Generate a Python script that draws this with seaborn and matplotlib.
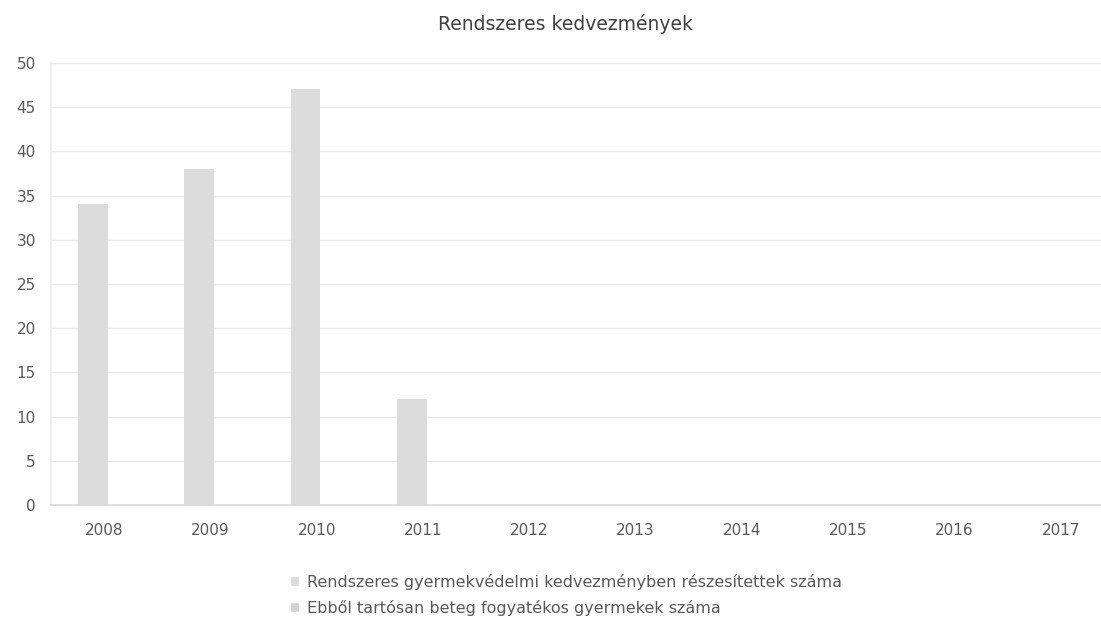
import numpy as np
import pandas as pd
import matplotlib
matplotlib.use("Agg")
import matplotlib.pyplot as plt
import seaborn as sns

# adatok
evek = ["2008", "2009", "2010", "2011", "2012", "2013", "2014", "2015", "2016", "2017"]
rendszeres = [34, 38, 47, 12, 0, 0, 0, 0, 0, 0]
tartosan_beteg = [0, 0, 0, 0, 0, 0, 0, 0, 0, 0]

sorozat_nevek = [
    "Rendszeres gyermekvédelmi kedvezményben részesítettek száma",
    "Ebből tartósan beteg fogyatékos gyermekek száma",
]
cim = "Rendszeres kedvezmények"
y_tickek = [0, 5, 10, 15, 20, 25, 30, 35, 40, 45, 50]

szinek = ["#dcdcdc", "#d2d2d2"]
szoveg_szin = "#595959"

df = pd.DataFrame({
    "ev": evek * 2,
    "ertek": rendszeres + tartosan_beteg,
    "sorozat": [sorozat_nevek[0]] * len(evek) + [sorozat_nevek[1]] * len(evek),
})

sns.set_theme(style="white")
plt.rcParams["font.family"] = ["DejaVu Sans"]

fig = plt.figure(figsize=(11.01, 6.29), dpi=100)
ax = fig.add_axes([0.0463, 0.197, 0.9655, 0.703])

sns.barplot(data=df, x="ev", y="ertek", hue="sorozat", palette=szinek,
            width=0.42, ax=ax, saturation=1, errorbar=None)

# excel-szeru oszlopszelesseg, kozeppont marad
for p in ax.patches:
    kozep = p.get_x() + p.get_width() / 2
    p.set_width(0.28)
    p.set_x(kozep - 0.14)
    p.set_linewidth(0)

ax.set_ylim(0, 50)
ax.set_xlim(-0.5, len(evek) - 0.5)
ax.set_yticks(y_tickek)
ax.set_yticklabels([str(t) for t in y_tickek])
ax.yaxis.grid(True, color="#ebebeb", linewidth=1)
ax.set_axisbelow(True)
ax.set_xlabel("")
ax.set_ylabel("")
ax.tick_params(axis="y", length=0, pad=11, labelsize=11, labelcolor=szoveg_szin)
ax.tick_params(axis="x", length=0, pad=13, labelsize=11, labelcolor=szoveg_szin)

for s in ["top", "right"]:
    ax.spines[s].set_visible(False)
ax.spines["bottom"].set_color("#d9d9d9")
ax.spines["left"].set_color("#eeeeee")

fig.text(566 / 1101, 1 - 24 / 629, cim, ha="center", va="center",
         fontsize=13.5, color="#404040")

sns.move_legend(ax, "upper center", bbox_to_anchor=(566 / 1101, 1 - 566 / 629),
                bbox_transform=fig.transFigure, ncol=1, frameon=False, title=None,
                fontsize=11.5, handlelength=0.6, handleheight=0.6, handletextpad=0.5,
                labelspacing=0.6, borderpad=0, alignment="left")
for t in ax.get_legend().get_texts():
    t.set_color(szoveg_szin)

fig.savefig("out.png", dpi=100)
